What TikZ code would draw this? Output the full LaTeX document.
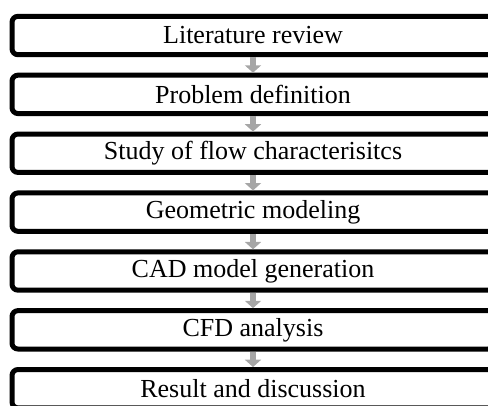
\documentclass[tikz,border=0pt]{standalone}
\usepackage{fontspec}
\setmainfont{Liberation Serif}
\usetikzlibrary{positioning,arrows.meta}

\definecolor{arrowgrey}{RGB}{166,166,166}

\tikzset{every picture/.style={line width=0.75pt}}
\tikzset{
  stepbox/.style={draw, line width=3.75pt, rounded corners=4.5pt, fill=white,
    minimum width=361.5pt, minimum height=28.8pt, inner sep=0pt,
    font=\fontsize{19.5pt}{23pt}\selectfont},
  flowarrow/.style={draw=arrowgrey, line width=4.5pt,
    -{Triangle[width=12pt,length=5.5pt]}}
}

\begin{document}
\begin{tikzpicture}[x=0.75pt,y=0.75pt,yscale=-1,xscale=1,node distance=11.6pt]
	\clip (0,0) rectangle (488,405);
	\useasboundingbox (0,0) rectangle (488,405);
	% Boxes
	\node [stepbox] (lit) at (253,35.5) {Literature review};
	\node [stepbox, below=of lit] (prob) {Problem definition};
	\node [stepbox, below=of prob] (flow) {Study of flow characterisitcs};
	\node [stepbox, below=of flow] (geom) {Geometric modeling};
	\node [stepbox, below=of geom] (cad) {CAD model generation};
	\node [stepbox, below=of cad] (cfd) {CFD analysis};
	\node [stepbox, below=of cfd] (res) {Result and discussion};
	% Arrows
	\draw [flowarrow] (lit) -- (prob);
	\draw [flowarrow] (prob) -- (flow);
	\draw [flowarrow] (flow) -- (geom);
	\draw [flowarrow] (geom) -- (cad);
	\draw [flowarrow] (cad) -- (cfd);
	\draw [flowarrow] (cfd) -- (res);
\end{tikzpicture}
\end{document}
